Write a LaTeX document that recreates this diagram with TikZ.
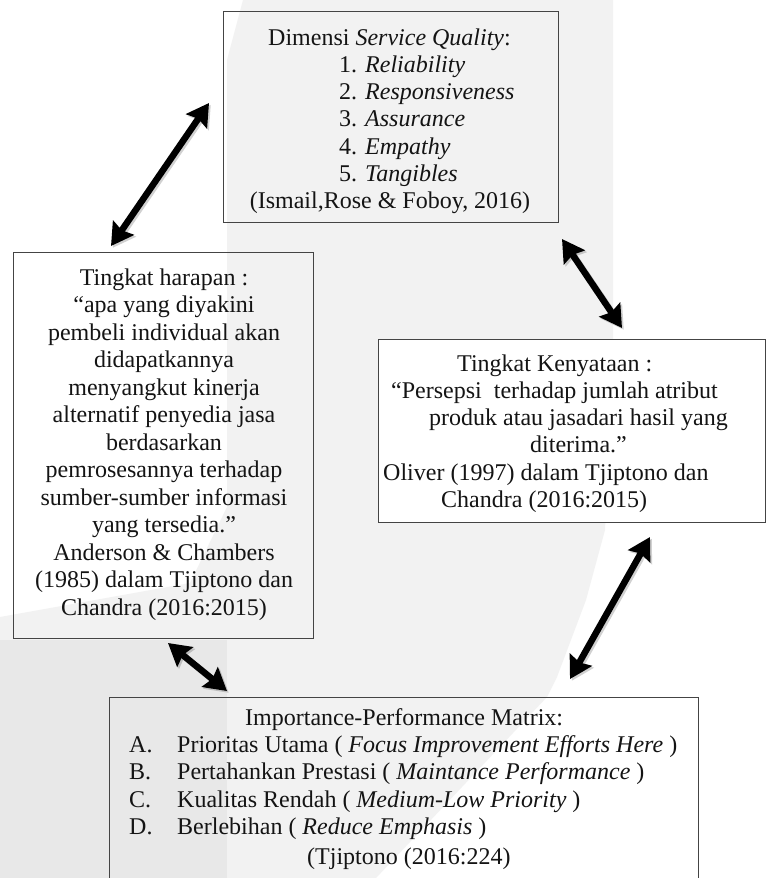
\documentclass[tikz,border=0pt]{standalone}
\usepackage{fontspec}
\setmainfont{Liberation Serif}
\usetikzlibrary{arrows.meta}
\definecolor{wmlight}{HTML}{F2F2F2}
\definecolor{wmdark}{HTML}{E8E8E8}
\definecolor{boxline}{HTML}{444444}
\tikzset{
  boxst/.style={draw=boxline, line width=1.4pt, inner sep=0pt, anchor=north west},
  txt/.style={inner sep=0pt, font=\fontsize{24}{27}\selectfont, text=black!92},
  lft/.style={txt, anchor=base west},
  ctr/.style={txt, anchor=base},
  dblarrow/.style={line width=6.5pt,
    {Stealth[length=22pt,width=25pt,inset=3pt]}-{Stealth[length=22pt,width=25pt,inset=3pt]}},
  shadowarrow/.style={line width=6.5pt, black, opacity=0.18,
    {Stealth[length=22pt,width=25pt,inset=3pt]}-{Stealth[length=22pt,width=25pt,inset=3pt]}}
}
\begin{document}
\begin{tikzpicture}[x=1pt,y=-1pt]
\clip (0,0) rectangle (769,878);
\fill[white] (0,0) rectangle (769,878);
% faint watermark
\fill[wmlight] (243,0) -- (613,0) -- (613,340) -- (605,530) -- (586,600) -- (557,677)
  -- (547,697) -- (376,878) -- (0,878) -- (0,617) -- (190,583) -- (227,507) -- (227,60) -- cycle;
\fill[wmdark] (0,640) -- (227,640) -- (227,878) -- (0,878) -- cycle;

% boxes
\node[boxst, minimum width=335pt, minimum height=211pt] (sq) at (223,11) {};
\node[boxst, minimum width=300pt, minimum height=386pt] (hr) at (13,252) {};
\node[boxst, fill=white, minimum width=387pt, minimum height=183pt] (ky) at (378,339) {};
\node[boxst, minimum width=589pt, minimum height=220pt] (ipm) at (109,697) {};

% top box text
\node[lft] (sq0) at (268,45) {Dimensi \textit{Service Quality}:};
\node[lft] (sq1) at (339,72) {1. \textit{Reliability}};
\node[lft] (sq2) at (339,99) {2. \textit{Responsiveness}};
\node[lft] (sq3) at (339,126.5) {3. \textit{Assurance}};
\node[lft] (sq4) at (339,154) {4. \textit{Empathy}};
\node[lft] (sq5) at (339,181) {5. \textit{Tangibles}};
\node[ctr] (sq6) at (390,208.5) {(Ismail,Rose \& Foboy, 2016)};

% left box text
\node[ctr] (hr1) at (164,285) {Tingkat harapan :};
\node[ctr] (hr2) at (164,312.5) {“apa yang diyakini};
\node[ctr] (hr3) at (164,340) {pembeli individual akan};
\node[ctr] (hr4) at (164,367.5) {didapatkannya};
\node[ctr] (hr5) at (164,395) {menyangkut kinerja};
\node[ctr] (hr6) at (164,422.5) {alternatif penyedia jasa};
\node[ctr] (hr7) at (164,450) {berdasarkan};
\node[ctr] (hr8) at (164,477.5) {pemrosesannya terhadap};
\node[ctr] (hr9) at (164,505) {sumber-sumber informasi};
\node[ctr] (hr10) at (164,532.5) {yang tersedia.”};
\node[ctr] (hr11) at (164,560) {Anderson \& Chambers};
\node[ctr] (hr12) at (164,587.5) {(1985) dalam Tjiptono dan};
\node[ctr] (hr13) at (164,615) {Chandra (2016:2015)};

% right box text
\node[lft] (ky1) at (457,371) {Tingkat Kenyataan :};
\node[lft] (ky2) at (391,398) {“Persepsi\ \ terhadap jumlah atribut};
\node[lft] (ky3) at (429,425) {produk atau jasadari hasil yang};
\node[lft] (ky4) at (530,452) {diterima.”};
\node[lft] (ky5) at (383,480) {Oliver (1997) dalam Tjiptono dan};
\node[lft] (ky6) at (441,507) {Chandra (2016:2015)};

% bottom box text
\node[lft] (ip0) at (245,725) {Importance-Performance Matrix:};
\node[lft] (ipA) at (129,752) {A.};
\node[lft] (ipa) at (177,752) {Prioritas Utama ( \textit{Focus Improvement Efforts Here} )};
\node[lft] (ipB) at (129,779.5) {B.};
\node[lft] (ipb) at (177,779.5) {Pertahankan Prestasi ( \textit{Maintance Performance} )};
\node[lft] (ipC) at (129,807) {C.};
\node[lft] (ipc) at (177,807) {Kualitas Rendah ( \textit{Medium-Low Priority} )};
\node[lft] (ipD) at (129,834.5) {D.};
\node[lft] (ipd) at (177,834.5) {Berlebihan ( \textit{Reduce Emphasis} )};
\node[lft] (ip6) at (307,864) {(Tjiptono (2016:224)};

% arrow end points
\coordinate (a1s) at (209,103);
\coordinate (a1e) at (111,246);
\coordinate (a2s) at (562,239);
\coordinate (a2e) at (622,328);
\coordinate (a3s) at (650,537);
\coordinate (a3e) at (570,679);
\coordinate (a4s) at (168,643);
\coordinate (a4e) at (227,691);

\foreach \s/\e in {a1s/a1e, a2s/a2e, a3s/a3e, a4s/a4e}{
  \draw[shadowarrow, transform canvas={shift={(1.8pt,-1.8pt)}}] (\s) -- (\e);
  \draw[dblarrow] (\s) -- (\e);
}
\end{tikzpicture}
\end{document}
